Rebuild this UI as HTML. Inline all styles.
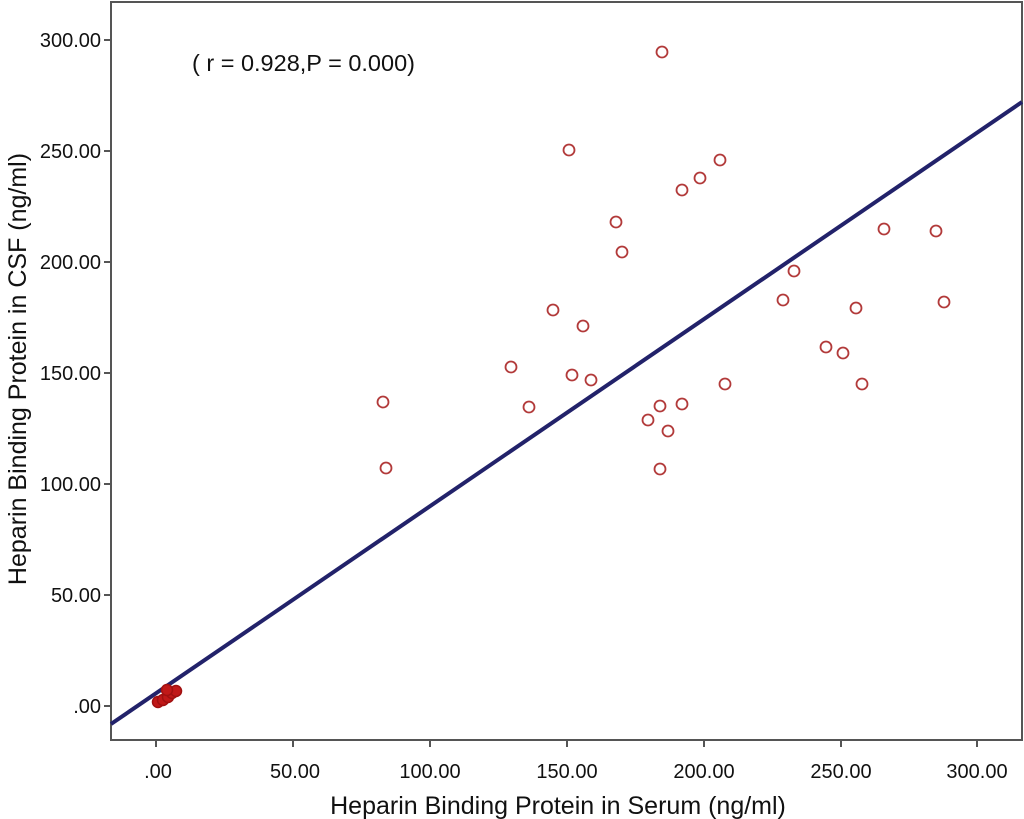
<!DOCTYPE html>
<html><head><style>body{margin:0;background:#fff}svg{display:block}</style></head><body>
<svg width="1024" height="819" xmlns="http://www.w3.org/2000/svg" font-family="Liberation Sans, Arial, sans-serif" fill="#111">
<rect x="111" y="2" width="911" height="738" fill="#fff" stroke="#555" stroke-width="2"/>
<g stroke="#555" stroke-width="2">
<line x1="104" y1="40" x2="111" y2="40"/><line x1="104" y1="151" x2="111" y2="151"/><line x1="104" y1="262" x2="111" y2="262"/><line x1="104" y1="373" x2="111" y2="373"/><line x1="104" y1="484" x2="111" y2="484"/><line x1="104" y1="595" x2="111" y2="595"/><line x1="104" y1="706" x2="111" y2="706"/>
<line x1="156" y1="740" x2="156" y2="747"/><line x1="293" y1="740" x2="293" y2="747"/><line x1="430" y1="740" x2="430" y2="747"/><line x1="567" y1="740" x2="567" y2="747"/><line x1="704" y1="740" x2="704" y2="747"/><line x1="841" y1="740" x2="841" y2="747"/><line x1="977" y1="740" x2="977" y2="747"/>
</g>
<g font-size="20" text-anchor="end">
<text x="101" y="47">300.00</text><text x="101" y="158">250.00</text><text x="101" y="269">200.00</text><text x="101" y="380">150.00</text><text x="101" y="491">100.00</text><text x="101" y="602">50.00</text><text x="101" y="713">.00</text>
</g>
<g font-size="20" text-anchor="middle">
<text x="158" y="778">.00</text><text x="295" y="778">50.00</text><text x="430" y="778">100.00</text><text x="567" y="778">150.00</text><text x="704" y="778">200.00</text><text x="841" y="778">250.00</text><text x="977" y="778">300.00</text>
</g>
<text x="558" y="814" font-size="25" text-anchor="middle">Heparin Binding Protein in Serum (ng/ml)</text>
<text transform="translate(26,369) rotate(-90)" font-size="25" text-anchor="middle">Heparin Binding Protein in CSF (ng/ml)</text>
<text x="192" y="71" font-size="23.5">( r = 0.928,P = 0.000)</text>
<line x1="111" y1="724" x2="1022" y2="102" stroke="#22226a" stroke-width="4"/>
<g fill="none" stroke="#b23a3a" stroke-width="1.8">
<circle cx="662" cy="52" r="5.5"/><circle cx="569" cy="150" r="5.5"/><circle cx="720" cy="160" r="5.5"/><circle cx="700" cy="178" r="5.5"/><circle cx="682" cy="190" r="5.5"/><circle cx="616" cy="222" r="5.5"/><circle cx="622" cy="252" r="5.5"/><circle cx="884" cy="229" r="5.5"/><circle cx="936" cy="231" r="5.5"/><circle cx="553" cy="310" r="5.5"/><circle cx="583" cy="326" r="5.5"/><circle cx="794" cy="271" r="5.5"/><circle cx="783" cy="300" r="5.5"/><circle cx="856" cy="308" r="5.5"/><circle cx="944" cy="302" r="5.5"/><circle cx="826" cy="347" r="5.5"/><circle cx="843" cy="353" r="5.5"/><circle cx="511" cy="367" r="5.5"/><circle cx="572" cy="375" r="5.5"/><circle cx="591" cy="380" r="5.5"/><circle cx="725" cy="384" r="5.5"/><circle cx="862" cy="384" r="5.5"/><circle cx="383" cy="402" r="5.5"/><circle cx="529" cy="407" r="5.5"/><circle cx="682" cy="404" r="5.5"/><circle cx="660" cy="406" r="5.5"/><circle cx="648" cy="420" r="5.5"/><circle cx="668" cy="431" r="5.5"/><circle cx="660" cy="469" r="5.5"/><circle cx="386" cy="468" r="5.5"/>
</g>
<g fill="#c01818" stroke="#a01010" stroke-width="1.5">
<circle cx="158" cy="702" r="5.5"/><circle cx="163" cy="700" r="5.5"/><circle cx="168" cy="697" r="5.5"/><circle cx="172" cy="693" r="5.5"/><circle cx="176" cy="691" r="5.5"/><circle cx="167" cy="690" r="5.5"/>
</g>
</svg>
</body></html>
